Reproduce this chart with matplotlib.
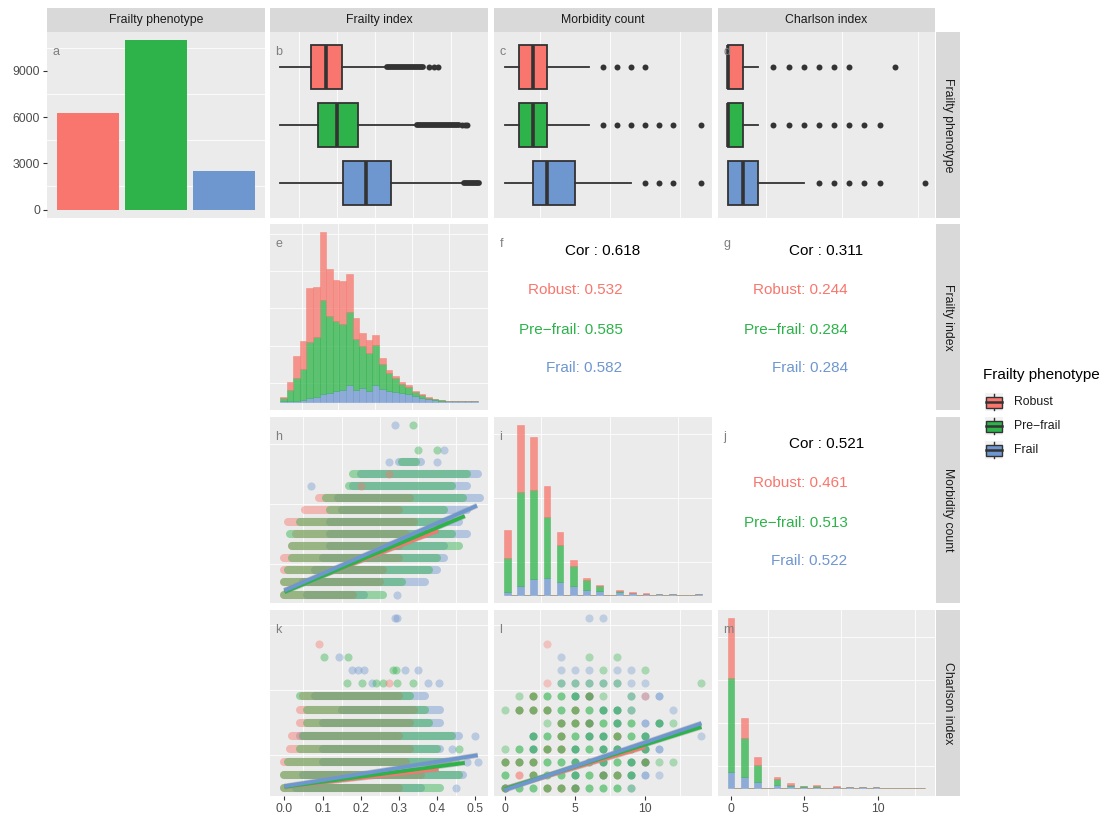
import numpy as np
import matplotlib.pyplot as plt
from matplotlib.patches import Rectangle

plt.rcParams['font.family'] = ['Liberation Sans', 'DejaVu Sans']

groups = ["Robust", "Pre\u2212frail", "Frail"]
group_colors = ["#F8766D", "#2DB34A", "#6E96CF"]

# a: number of people per phenotype
phenotype_counts = [6240, 10980, 2500]

# b-d: box summaries (whisker low, q1, median, q3, whisker high) per group
fi_box = [(0.0, 0.081, 0.120, 0.162, 0.278),
          (0.0, 0.099, 0.149, 0.204, 0.357),
          (0.0, 0.165, 0.225, 0.291, 0.478)]
fi_outlier_runs = [(0, 0.280, 0.376), (1, 0.360, 0.470), (2, 0.482, 0.522)]
fi_outliers = [[0.390, 0.405, 0.414], [0.478, 0.486, 0.492], []]
morb_box = [(0, 1, 2, 3, 6), (0, 1, 2, 3, 6), (0, 2, 3, 5, 9)]
morb_outliers = [[7, 8, 9, 10], [7, 8, 9, 10, 11, 12, 14], [10, 11, 12, 14]]
charl_box = [(0, 0, 0, 1, 2), (0, 0, 0, 1, 2), (0, 0, 1, 2, 5)]
charl_outliers = [[3, 4, 5, 6, 7, 8, 11], [3, 4, 5, 6, 7, 8, 9, 10], [6, 7, 8, 9, 10, 13]]

# e: frailty index histogram (30 bins over 0-0.52)
fi_hist_robust = [22, 112, 292, 382, 724, 675, 913, 639, 544, 580, 513, 279, 180, 171, 135,
                  76, 45, 31, 27, 18, 13, 13, 9, 4, 2, 0, 0, 0, 0, 0]
fi_hist_prefrail = [36, 148, 301, 414, 751, 801, 1255, 1026, 940, 882, 990, 688, 562, 508, 544,
                    342, 243, 184, 108, 99, 58, 36, 18, 9, 4, 4, 2, 2, 0, 0]
fi_hist_frail = [9, 9, 13, 22, 54, 67, 103, 121, 148, 153, 216, 157, 180, 144, 220,
                 166, 139, 130, 121, 103, 76, 49, 36, 22, 13, 9, 9, 4, 4, 4]

# i: morbidity count distribution (values 0-14)
morb_values = list(range(15))
morb_robust = [853, 2070, 1664, 957, 395, 177, 73, 52, 31, 10, 5, 0, 0, 0, 0]
morb_prefrail = [1071, 2902, 2777, 1893, 1154, 614, 291, 146, 31, 21, 10, 5, 2, 0, 1]
morb_frail = [73, 281, 468, 520, 395, 270, 156, 104, 83, 42, 21, 10, 5, 0, 2]

# m: Charlson index distribution (values 0-13)
charl_values = list(range(14))
charl_robust = [4147, 1398, 583, 163, 93, 23, 47, 23, 12, 0, 0, 2, 0, 0]
charl_prefrail = [6571, 2726, 1165, 419, 117, 47, 93, 47, 23, 12, 5, 0, 0, 0]
charl_frail = [1072, 746, 373, 186, 93, 47, 47, 23, 12, 8, 5, 0, 0, 2]

# f, g, j: correlations (overall, then Robust / Pre-frail / Frail)
cor_fi_morb = [0.618, 0.532, 0.585, 0.582]
cor_fi_charl = [0.311, 0.244, 0.284, 0.284]
cor_morb_charl = [0.521, 0.461, 0.513, 0.522]

# h: frailty index vs morbidity count -- dense runs (level, group, from, to) and lone points
h_runs = [(0, 0, 0.0, 0.18), (0, 1, 0.0, 0.26), (0, 2, 0.06, 0.21),
          (1, 0, 0.0, 0.25), (1, 1, 0.0, 0.31), (1, 2, 0.05, 0.37),
          (2, 0, 0.0, 0.26), (2, 1, 0.01, 0.38), (2, 2, 0.08, 0.40),
          (3, 0, 0.0, 0.30), (3, 1, 0.02, 0.40), (3, 2, 0.10, 0.42),
          (4, 0, 0.02, 0.30), (4, 1, 0.02, 0.46), (4, 2, 0.12, 0.42),
          (5, 0, 0.03, 0.32), (5, 1, 0.015, 0.44), (5, 2, 0.12, 0.48),
          (6, 0, 0.01, 0.34), (6, 1, 0.04, 0.42), (6, 2, 0.12, 0.46),
          (7, 0, 0.055, 0.30), (7, 1, 0.12, 0.42), (7, 2, 0.15, 0.48),
          (8, 0, 0.09, 0.33), (8, 1, 0.11, 0.47), (8, 2, 0.14, 0.515),
          (9, 1, 0.17, 0.44), (9, 2, 0.18, 0.48),
          (10, 1, 0.18, 0.48), (10, 2, 0.20, 0.51),
          (11, 1, 0.31, 0.345), (11, 2, 0.30, 0.36)]
h_points = [(0, 2, 0.295), (9, 2, 0.07), (9, 0, 0.20), (10, 0, 0.276), (11, 2, 0.275),
            (11, 2, 0.40), (12, 1, 0.35), (12, 1, 0.40), (12, 2, 0.42), (14, 2, 0.29), (14, 1, 0.337)]
h_fits = [(0.33, 12.3, 0.404), (0.20, 13.3, 0.474), (0.33, 13.9, 0.506)]  # intercept, slope, max x

# k: frailty index vs Charlson index
k_runs = [(0, 0, 0.0, 0.30), (0, 1, 0.0, 0.41), (0, 2, 0.03, 0.36),
          (1, 0, 0.0, 0.36), (1, 1, 0.0, 0.46), (1, 2, 0.05, 0.47),
          (2, 0, 0.0, 0.32), (2, 1, 0.01, 0.45), (2, 2, 0.10, 0.43),
          (3, 0, 0.015, 0.33), (3, 1, 0.04, 0.40), (3, 2, 0.10, 0.41),
          (4, 0, 0.02, 0.30), (4, 1, 0.05, 0.44), (4, 2, 0.04, 0.46),
          (5, 0, 0.04, 0.33), (5, 1, 0.06, 0.38), (5, 2, 0.10, 0.41),
          (6, 0, 0.04, 0.34), (6, 1, 0.06, 0.37), (6, 2, 0.15, 0.41),
          (7, 0, 0.05, 0.30), (7, 1, 0.04, 0.33), (7, 2, 0.08, 0.37)]
k_points = [(0, 2, 0.45), (2, 2, 0.48), (2, 2, 0.51), (3, 2, 0.44), (3, 1, 0.46), (4, 2, 0.50),
            (8, 1, 0.165), (8, 1, 0.205), (8, 2, 0.229), (8, 1, 0.241), (8, 1, 0.259), (8, 0, 0.276),
            (8, 1, 0.297), (8, 1, 0.339), (8, 2, 0.376), (8, 2, 0.407),
            (9, 2, 0.178), (9, 2, 0.192), (9, 2, 0.209), (9, 1, 0.285), (9, 1, 0.294), (9, 2, 0.318),
            (9, 2, 0.35), (10, 1, 0.105), (10, 2, 0.144), (10, 1, 0.167), (11, 0, 0.092),
            (13, 2, 0.29), (13, 2, 0.297)]
k_fits = [(0.05, 3.4, 0.405), (0.05, 3.9, 0.474), (0.10, 4.7, 0.508)]

# l: morbidity count vs Charlson index; letters = groups present (upper = dense, lower = few)
l_points = [(0, 0, "RPF"), (1, 0, "P"), (2, 0, "P"), (3, 0, "RP"), (4, 0, "RP"), (5, 0, "RPF"),
            (6, 0, "P"), (7, 0, "P"), (8, 0, "P"), (9, 0, "pf"),
            (0, 1, "P"), (1, 1, "R"), (2, 1, "RP"), (3, 1, "P"), (4, 1, "P"), (5, 1, "PF"), (6, 1, "P"),
            (7, 1, "RPF"), (8, 1, "RP"), (9, 1, "PF"), (10, 1, "F"), (11, 1, "f"),
            (0, 2, "RP"), (1, 2, "RP"), (2, 2, "RP"), (3, 2, "P"), (4, 2, "P"), (5, 2, "PF"), (6, 2, "P"),
            (7, 2, "PF"), (8, 2, "P"), (9, 2, "PF"), (10, 2, "RPF"), (11, 2, "p"), (12, 2, "p"),
            (0, 3, "p"), (1, 3, "P"), (2, 3, "PF"), (3, 3, "RP"), (4, 3, "RP"), (5, 3, "PF"), (6, 3, "P"),
            (7, 3, "PF"), (8, 3, "PF"), (9, 3, "P"), (10, 3, "PF"), (11, 3, "F"),
            (2, 4, "PF"), (3, 4, "P"), (4, 4, "RP"), (5, 4, "P"), (6, 4, "PF"), (7, 4, "PF"), (8, 4, "RP"),
            (9, 4, "P"), (10, 4, "PF"), (14, 4, "f"),
            (3, 5, "p"), (4, 5, "RP"), (5, 5, "RP"), (6, 5, "RPF"), (7, 5, "P"), (8, 5, "PF"), (9, 5, "P"),
            (10, 5, "F"), (11, 5, "PF"), (12, 5, "p"),
            (0, 6, "p"), (1, 6, "RP"), (2, 6, "RP"), (3, 6, "RP"), (4, 6, "P"), (5, 6, "RP"), (6, 6, "P"),
            (7, 6, "PF"), (8, 6, "PF"), (9, 6, "pf"), (12, 6, "f"),
            (1, 7, "p"), (2, 7, "RP"), (3, 7, "P"), (4, 7, "P"), (5, 7, "PF"), (6, 7, "RPF"), (7, 7, "p"),
            (9, 7, "pf"), (10, 7, "rf"), (11, 7, "F"),
            (3, 8, "r"), (4, 8, "pf"), (5, 8, "pf"), (6, 8, "pf"), (7, 8, "pf"), (8, 8, "pf"),
            (9, 8, "f"), (10, 8, "f"), (14, 8, "p"),
            (4, 9, "f"), (5, 9, "f"), (6, 9, "f"), (7, 9, "p"), (8, 9, "f"), (9, 9, "f"), (10, 9, "p"),
            (4, 10, "f"), (6, 10, "p"), (8, 10, "p"), (3, 11, "r"), (6, 13, "f"), (7, 13, "f")]
l_fits = [(-0.08, 0.32, 10), (-0.10, 0.34, 14), (-0.20, 0.367, 14)]

# ---------------------------------------------------------------- layout
W, H = 1104, 816
fig = plt.figure(figsize=(W / 100, H / 100), dpi=100)
col_px = [(47, 265), (270, 488), (494, 712), (718, 935)]
row_px = [(32, 218), (224, 410), (417, 603), (610, 796)]
BG = "#EBEBEB"
DARK = "#333333"


def px_axes(x0, y0, x1, y1):
    return fig.add_axes([x0 / W, 1 - y1 / H, (x1 - x0) / W, (y1 - y0) / H])


def add_panel(r, c, letter, bg=BG):
    ax = px_axes(col_px[c][0], row_px[r][0], col_px[c][1], row_px[r][1])
    ax.set_facecolor(bg)
    for s in ax.spines.values():
        s.set_visible(False)
    ax.set_xticks([])
    ax.set_yticks([])
    ax.text(0.025, 0.895, letter, transform=ax.transAxes, color="#7F7F7F",
            fontsize=9, ha="left", va="center", zorder=10)
    return ax


def grid(ax, xs=(), ys=()):
    for v in xs:
        ax.axvline(v, color="white", lw=0.6, zorder=0.5)
    for v in ys:
        ax.axhline(v, color="white", lw=0.6, zorder=0.5)


def bottom_ticks(ax, ticks, labels):
    ax.set_xticks(ticks, labels)
    ax.tick_params(axis="x", length=3, width=0.8, color=DARK, labelcolor="#4D4D4D",
                   labelsize=8.8, pad=2)


def strip(x0, y0, x1, y1, text, rot=0):
    ax = px_axes(x0, y0, x1, y1)
    ax.set_facecolor("#D9D9D9")
    for s in ax.spines.values():
        s.set_visible(False)
    ax.set_xticks([])
    ax.set_yticks([])
    ax.text(0.5, 0.5, text, rotation=rot, ha="center", va="center", fontsize=8.8,
            color="#1A1A1A", transform=ax.transAxes)


titles = ["Frailty phenotype", "Frailty index", "Morbidity count", "Charlson index"]
for c, t in enumerate(titles):
    strip(col_px[c][0], 8, col_px[c][1], 32, t)
for r, t in enumerate(titles):
    strip(936, row_px[r][0], 960, row_px[r][1], t, rot=270)

# ---------------------------------------------------------------- a
ax = add_panel(0, 0, "a")
ax.bar(range(3), phenotype_counts, width=0.9, color=group_colors, zorder=2)
top = max(phenotype_counts)
ax.set_xlim(-0.6, 2.6)
ax.set_ylim(-0.05 * top, 1.05 * top)
grid(ax, ys=[1500, 4500, 7500, 10500])
ax.set_yticks([0, 3000, 6000, 9000])
ax.tick_params(axis="y", length=3, width=0.8, color=DARK, labelcolor="#4D4D4D",
               labelsize=8.8, pad=2)


# ---------------------------------------------------------------- b, c, d
def box_panel(ax, box, outliers, xlim, minor, runs=()):
    stats = [dict(whislo=b[0], q1=b[1], med=b[2], q3=b[3], whishi=b[4], fliers=[]) for b in box]
    grid(ax, xs=minor)
    for g, lo, hi in runs:
        ax.plot([lo, hi], [3 - g, 3 - g], color=DARK, lw=4.2, solid_capstyle="round", zorder=3)
    for g, vals in enumerate(outliers):
        ax.plot(vals, [3 - g] * len(vals), "o", color=DARK, ms=4.3, mew=0, zorder=3)
    bp = ax.bxp(stats, positions=[3, 2, 1], widths=0.75, orientation="horizontal",
                patch_artist=True, showcaps=False, manage_ticks=False,
                boxprops=dict(edgecolor=DARK, linewidth=1.3),
                whiskerprops=dict(color=DARK, linewidth=1.3),
                medianprops=dict(color=DARK, linewidth=2.6))
    for patch, col in zip(bp["boxes"], group_colors):
        patch.set_facecolor(col)
    ax.set_xlim(*xlim)
    ax.set_ylim(0.4, 3.6)
    ax.set_xticks([])
    ax.set_yticks([])


box_panel(add_panel(0, 1, "b"), fi_box, fi_outliers, (-0.026, 0.546),
          [0.05, 0.15, 0.25, 0.35, 0.45], fi_outlier_runs)
box_panel(add_panel(0, 2, "c"), morb_box, morb_outliers, (-0.75, 14.75), [2.5, 7.5, 12.5])
box_panel(add_panel(0, 3, "d"), charl_box, charl_outliers, (-0.65, 13.65), [2.5, 7.5, 12.5])


# ---------------------------------------------------------------- e, i, m
def stacked_hist(ax, centers, bw, robust, prefrail, frail, xr):
    r = np.asarray(robust, float)
    p = np.asarray(prefrail, float)
    f = np.asarray(frail, float)
    kw = dict(width=bw, alpha=0.75, linewidth=0.4, zorder=2)
    ax.bar(centers, f, color=group_colors[2], edgecolor=group_colors[2], **kw)
    ax.bar(centers, p, bottom=f, color=group_colors[1], edgecolor=group_colors[1], **kw)
    ax.bar(centers, r, bottom=f + p, color=group_colors[0], edgecolor=group_colors[0], **kw)
    lo, hi = xr[0] - bw / 2, xr[1] + bw / 2
    pad = 0.05 * (hi - lo)
    ax.set_xlim(lo - pad, hi + pad)
    tot = (r + p + f).max()
    ax.set_ylim(-0.05 * tot, 1.05 * tot)


def binned(values, counts, top, nbins=30):
    bw = top / (nbins - 1)
    out = np.zeros(nbins)
    idx = np.round(np.asarray(values) / bw).astype(int)
    out[idx] = counts
    return out


ax = add_panel(1, 1, "e")
bw_e = 0.52 / 29
stacked_hist(ax, np.arange(30) * bw_e, bw_e, fi_hist_robust, fi_hist_prefrail, fi_hist_frail, (0, 0.52))
grid(ax, xs=[0.05, 0.15, 0.25, 0.35, 0.45], ys=[250, 750, 1250, 1750, 2250])

ax = add_panel(2, 2, "i")
bw_i = 14 / 29
stacked_hist(ax, np.arange(30) * bw_i, bw_i, binned(morb_values, morb_robust, 14),
             binned(morb_values, morb_prefrail, 14), binned(morb_values, morb_frail, 14), (0, 14))
grid(ax, xs=[2.5, 7.5, 12.5], ys=[1000, 3000, 5000])

ax = add_panel(3, 3, "m")
bw_m = 13 / 29
stacked_hist(ax, np.arange(30) * bw_m, bw_m, binned(charl_values, charl_robust, 13),
             binned(charl_values, charl_prefrail, 13), binned(charl_values, charl_frail, 13), (0, 13))
grid(ax, xs=[2.5, 7.5, 12.5], ys=[1500, 4500, 7500, 10500])
bottom_ticks(ax, [0, 5, 10], ["0", "5", "10"])


# ---------------------------------------------------------------- f, g, j
def cor_panel(ax, cors, right):
    ax.text(0.5, 0.856, f"Cor : {cors[0]:.3f}", transform=ax.transAxes, ha="center",
            va="center", fontsize=11, color="black")
    for g, y in enumerate([0.645, 0.43, 0.224]):
        ax.text(right, y, f"{groups[g]}: {cors[g + 1]:.3f}", transform=ax.transAxes,
                ha="right", va="center", fontsize=11, color=group_colors[g])


cor_panel(add_panel(1, 2, "f", bg="white"), cor_fi_morb, 0.589)
cor_panel(add_panel(1, 3, "g", bg="white"), cor_fi_charl, 0.598)
cor_panel(add_panel(2, 3, "j", bg="white"), cor_morb_charl, 0.597)


# ---------------------------------------------------------------- h, k, l
def fit_lines(ax, fits):
    for g, (a, b, xmax) in enumerate(fits):
        xs = np.array([0, xmax])
        ax.plot(xs, a + b * xs, color="#9A9A9A", lw=3.8, alpha=0.5, zorder=4,
                solid_capstyle="butt")
        ax.plot(xs, a + b * xs, color=group_colors[g], lw=2.7, zorder=5, solid_capstyle="butt")


def run_scatter(ax, runs, points, fits, xlim, ylim):
    for g in (2, 0, 1):
        for lvl, gg, lo, hi in runs:
            if gg == g:
                ax.plot([lo, hi], [lvl, lvl], color=group_colors[g], lw=5.8, alpha=0.45,
                        solid_capstyle="round", zorder=2)
    for lvl, g, x in points:
        ax.scatter([x], [lvl], s=34, color=group_colors[g], alpha=0.4, linewidths=0, zorder=2)
    fit_lines(ax, fits)
    ax.set_xlim(*xlim)
    ax.set_ylim(*ylim)


ax = add_panel(2, 1, "h")
grid(ax, xs=[0.05, 0.15, 0.25, 0.35, 0.45], ys=[2.5, 7.5, 12.5])
run_scatter(ax, h_runs, h_points, h_fits, (-0.038, 0.535), (-0.7, 14.7))

ax = add_panel(3, 1, "k")
grid(ax, xs=[0.05, 0.15, 0.25, 0.35, 0.45], ys=[2.5, 7.5, 12.5])
run_scatter(ax, k_runs, k_points, k_fits, (-0.038, 0.535), (-0.65, 13.65))
bottom_ticks(ax, [0.0, 0.1, 0.2, 0.3, 0.4, 0.5], ["0.0", "0.1", "0.2", "0.3", "0.4", "0.5"])

ax = add_panel(3, 2, "l")
grid(ax, xs=[2.5, 7.5, 12.5], ys=[2.5, 7.5, 12.5])
for mx, cy, present in l_points:
    # frail first, pre-frail last so the most common group sits on top
    for ch in sorted(present, key=lambda c: "FRP".index(c.upper())):
        g = "RPF".index(ch.upper())
        ax.scatter([mx], [cy], s=34, color=group_colors[g],
                   alpha=0.6 if ch.isupper() else 0.35, linewidths=0, zorder=2)
fit_lines(ax, l_fits)
ax.set_xlim(-0.75, 14.75)
ax.set_ylim(-0.65, 13.65)
bottom_ticks(ax, [0, 5, 10], ["0", "5", "10"])

# ---------------------------------------------------------------- legend
lg = px_axes(975, 360, 1104, 470)
lg.set_xlim(975, 1104)
lg.set_ylim(470, 360)
lg.axis("off")
lg.text(983, 375, "Frailty phenotype", fontsize=11, ha="left", va="center", color="black")
for g, yc in enumerate([402, 426, 450]):
    lg.add_patch(Rectangle((985, yc - 8.6), 18, 17.2, facecolor="#F2F2F2", edgecolor="none"))
    lg.plot([994, 994], [yc - 8.2, yc + 8.2], color=DARK, lw=1.0)
    lg.add_patch(Rectangle((985.8, yc - 5.5), 16.4, 11, facecolor=group_colors[g],
                           edgecolor=DARK, lw=1.0, zorder=3))
    lg.plot([985.8, 1002.2], [yc, yc], color=DARK, lw=1.8, zorder=4)
    lg.text(1014, yc, groups[g], fontsize=8.8, ha="left", va="center", color="#1A1A1A")

fig.savefig("out.png", dpi=100)
